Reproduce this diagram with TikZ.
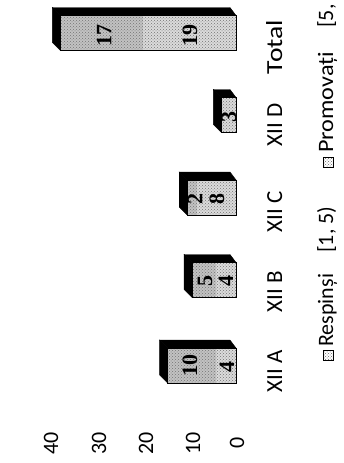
\documentclass[tikz,border=0pt]{standalone}
\usepackage{fontspec}
\setmainfont{Carlito}
\newfontfamily\barfont{Liberation Serif}
\usetikzlibrary{patterns}
\tikzset{
  lab/.style={rotate=90, anchor=base, inner sep=0pt, font=\fontsize{23}{23}\selectfont},
  axlab/.style={rotate=90, anchor=base, inner sep=0pt, font=\fontsize{22}{22}\selectfont},
  leglab/.style={rotate=90, anchor=base west, inner sep=0pt, font=\fontsize{22}{22}\selectfont},
  vallab/.style={rotate=90, anchor=center, inner sep=0pt, font=\barfont\bfseries\fontsize{22}{22}\selectfont},
  resp/.style={fill=black!14},
  prom/.style={fill=black!24},
  dots/.style={pattern=crosshatch dots, pattern color=black!55},
  outline/.style={draw=black, line width=0.6pt},
  side/.style={fill=black, draw=black},
  legbox/.style={draw=black, line width=0.6pt, pattern=crosshatch dots, pattern color=black!60}
}
\begin{document}
\begin{tikzpicture}[x=1pt,y=-1pt]
\useasboundingbox (0,0) rectangle (343,463);
\clip (0,0) rectangle (343,463);
% axis labels
\node[axlab] (t40) at (58,443) {40};
\node[axlab] (t30) at (106,443) {30};
\node[axlab] (t20) at (153,443) {20};
\node[axlab] (t10) at (200,443) {10};
\node[axlab] (t0) at (244,443) {0};
% bars: baseline x=236, scale 4.88 per unit, half height 17.5, depth 8
\def\bx{236}
\foreach \c/\r/\p/\n in {365.5/4/10/a, 280/4/5/b, 197.5/8/2/c, 115/3/0/d, 33/19/17/t}{
  \pgfmathsetmacro{\xr}{\bx-4.88*\r}
  \pgfmathsetmacro{\xp}{\xr-4.88*\p}
  \pgfmathsetmacro{\yt}{\c-17.5}
  \pgfmathsetmacro{\yb}{\c+17.5}
  % side (top band)
  \fill[side] (\xp,\yt) -- (\xp-8,\yt-8) -- (\bx-6,\yt-8) -- (\bx,\yt) -- cycle;
  % end cap (left band)
  \fill[side] (\xp,\yt) -- (\xp-8,\yt-8) -- (\xp-8,\yb-8) -- (\xp,\yb) -- cycle;
  \fill[resp] (\xr,\yt) rectangle (\bx,\yb);
  \fill[prom] (\xp,\yt) rectangle (\xr,\yb);
  \fill[dots] (\xp,\yt) rectangle (\bx,\yb);
  \draw[outline] (\xp,\yt) rectangle (\bx,\yb);
}
% value labels
\node[vallab] (va1) at (227,367) {4};
\node[vallab] (va2) at (190,365) {10};
\node[vallab] (vb1) at (226,281) {4};
\node[vallab] (vb2) at (205,281) {5};
\node[vallab] (vc1) at (217,199) {8};
\node[vallab] (vc2) at (195,199) {2};
\node[vallab] (vd1) at (229,117) {3};
\node[vallab] (vt1) at (190,35) {19};
\node[vallab] (vt2) at (104,35) {17};
% category labels
\node[lab] (ca) at (282,371) {XII A};
\node[lab] (cb) at (282,292) {XII B};
\node[lab] (cc) at (282,212) {XII C};
\node[lab] (cd) at (282,125) {XII D};
\node[lab] (ct) at (282,47) {\scalebox{1.2}[1]{Total}};
% legend
\draw[legbox] (323,350) rectangle (333,360);
\node[leglab] (lr) at (333,347) {Respinși};
\node[leglab] (lr2) at (333,253) {[1, 5)};
\draw[legbox] (323,157) rectangle (333,167);
\node[leglab] (lp) at (333,153) {\scalebox{1.1}[1]{Promovați}};
\node[leglab] (lp2) at (333,28) {[5,};
\end{tikzpicture}
\end{document}
